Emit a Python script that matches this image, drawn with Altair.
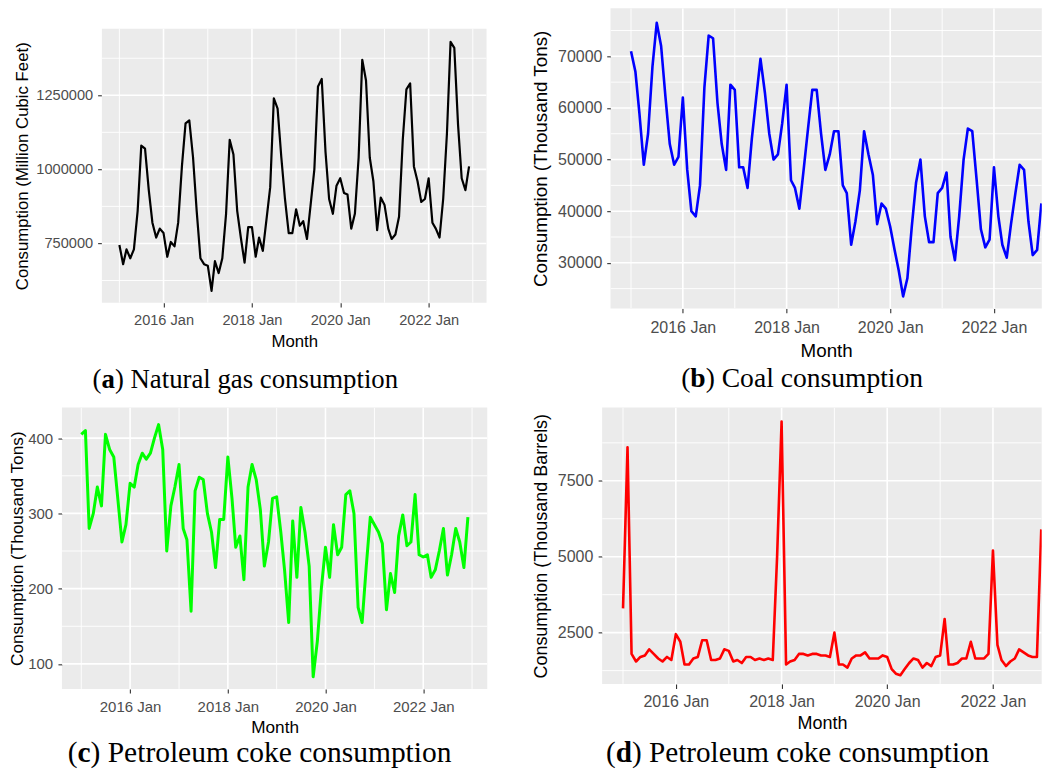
import altair as alt
import pandas as pd

# ---------------- data (monthly, Jan 2015 - Dec 2022) ----------------
months = [f"{y}-{m:02d}-01" for y in range(2015, 2023) for m in range(1, 13)]

gas = [
    745000, 680000, 730000, 700000, 730000, 860000, 1080000, 1070000, 930000, 820000, 770000, 800000,
    785000, 705000, 755000, 740000, 820000, 1010000, 1155000, 1165000, 1040000, 860000, 700000, 680000,
    675000, 590000, 690000, 650000, 700000, 850000, 1100000, 1050000, 860000, 770000, 685000, 805000,
    805000, 705000, 770000, 725000, 830000, 940000, 1240000, 1205000, 1040000, 900000, 785000, 785000,
    865000, 810000, 825000, 765000, 880000, 1000000, 1280000, 1305000, 1060000, 900000, 850000, 945000,
    970000, 920000, 915000, 800000, 850000, 1040000, 1370000, 1300000, 1040000, 960000, 795000, 905000,
    880000, 800000, 765000, 780000, 840000, 1100000, 1270000, 1290000, 1010000, 960000, 890000, 900000,
    970000, 820000, 800000, 770000, 900000, 1120000, 1430000, 1410000, 1150000, 970000, 930000, 1010000,
]

coal = [
    71000, 67000, 59000, 49000, 55000, 68000, 76500, 72000, 62000, 53000, 49000, 50500,
    62000, 48000, 40000, 39000, 45000, 64000, 74000, 73500, 61000, 53000, 48000, 64500,
    63500, 48500, 48500, 44500, 54000, 62000, 69500, 63000, 55000, 50000, 51000, 57000,
    64500, 46000, 44500, 40500, 48000, 56000, 63500, 63500, 55000, 48000, 51000, 55500,
    55500, 45000, 43500, 33500, 38000, 44000, 55500, 51000, 47000, 37500, 41500, 40500,
    37000, 32500, 28500, 23500, 27000, 37000, 45500, 50000, 39000, 34000, 34000, 43500,
    44500, 47500, 35000, 30500, 39000, 50000, 56000, 55500, 46000, 36500, 33000, 34500,
    48500, 39000, 33500, 31000, 37500, 43500, 49000, 48000, 38000, 31500, 32500, 41500,
]

coke_tons = [
    405, 410, 280, 300, 335, 310, 405, 385, 375, 320, 262, 285,
    340, 335, 365, 380, 372, 380, 400, 418, 385, 250, 310, 335,
    365, 280, 265, 170, 330, 348, 345, 300, 275, 228, 292, 292,
    375, 320, 255, 270, 212, 335, 365, 345, 305, 230, 262, 320,
    322, 275, 225, 155, 290, 215, 308, 275, 230, 83, 130, 200,
    255, 215, 285, 245, 255, 325, 330, 300, 175, 155, 230, 295,
    285, 275, 260, 172, 220, 195, 270, 298, 257, 262, 325, 245,
    242, 245, 215, 225, 250, 280, 218, 245, 280, 262, 228, 295,
]

coke_barrels = [
    3300, 8600, 1800, 1550, 1700, 1750, 1950, 1800, 1650, 1550, 1700, 1600,
    2450, 2200, 1450, 1450, 1650, 1700, 2250, 2250, 1600, 1600, 1650, 1950,
    1900, 1550, 1600, 1500, 1700, 1700, 1600, 1650, 1600, 1650, 1600, 5000,
    9450, 1450, 1550, 1600, 1800, 1800, 1750, 1800, 1800, 1750, 1750, 1700,
    2500, 1450, 1450, 1350, 1650, 1750, 1750, 1850, 1650, 1650, 1650, 1750,
    1700, 1300, 1150, 1100, 1300, 1500, 1650, 1600, 1350, 1500, 1400, 1700,
    1750, 2950, 1450, 1450, 1500, 1650, 1650, 2200, 1650, 1650, 1650, 1800,
    5200, 2100, 1600, 1400, 1550, 1650, 1950, 1850, 1750, 1700, 1700, 5900,
]

# tick / grid positions
major_x = ["2016-01-01", "2018-01-01", "2020-01-01", "2022-01-01"]
minor_x_full = ["2015-01-01", "2017-01-01", "2019-01-01", "2021-01-01", "2023-01-01"]
minor_x_cut = ["2015-01-01", "2017-01-01", "2019-01-01", "2021-01-01"]

gas_major = [750000, 1000000, 1250000]
gas_minor = [625000, 875000, 1125000, 1375000]
coal_major = [30000, 40000, 50000, 60000, 70000]
coal_minor = [25000, 35000, 45000, 55000, 65000, 75000]
tons_major = [100, 200, 300, 400]
tons_minor = [150, 250, 350]
barrel_major = [2500, 5000, 7500]
barrel_minor = [1250, 3750, 6250, 8750]

SANS = "Liberation Sans"
SERIF = "Liberation Serif"
BG = "#EBEBEB"

X_START = pd.Timestamp("2014-08-09 12:00")   # ggplot 5% expansion of the month range
X_END_FULL = pd.Timestamp("2023-04-24 12:00")
X_END_CUT = pd.Timestamp("2022-12-04 00:00")  # right-hand panels are cut by the figure edge


def to_dt(ts):
    ts = pd.Timestamp(ts)
    return alt.DateTime(year=ts.year, month=ts.month, date=ts.day,
                        hours=ts.hour, minutes=ts.minute, seconds=ts.second, utc=True)


# plot = grey panel (absolute px), view = Vega-Lite view (absolute px)
panels = [
    dict(values=gas, color="#000000", sw=2.2, ytitle="Consumption (Million Cubic Feet)",
         ydom=[549700, 1474900], ymaj=gas_major, ymin=gas_minor,
         xend=X_END_FULL, xmin=minor_x_full,
         plot=(101, 28.3, 385, 274.4), view=(61, 8, 425, 294.7),
         lab=14.6, tit=16.8, ytick=4.3, ylp=5.0, yext=66.5, yoff=70.4,
         xtick=4.3, xlp=5.0, xext=24, xoff=31.0,
         letter="a", rest=") Natural gas consumption", capL=91.7, capB=388.3, capF=26.8, bw=0.5),
    dict(values=coal, color="#0000FF", sw=2.6, ytitle="Consumption (Thousand Tons)",
         ydom=[21176, 79289], ymaj=coal_major, ymin=coal_minor,
         xend=X_END_CUT, xmin=minor_x_cut,
         plot=(609.3, 8, 431.7, 300.3), view=(609.3, 8, 431.7, 300.3),
         lab=16, tit=18.8, ytick=3.8, ylp=4.8, yext=53.5, yoff=60.2,
         xtick=4.4, xlp=7.0, xext=27.5, xoff=32.7,
         letter="b", rest=") Coal consumption", capL=680, capB=386.7, capF=27.6, bw=0.556),
    dict(values=coke_tons, color="#00FF00", sw=3.0, ytitle="Consumption (Thousand Tons)",
         ydom=[66.8, 440.6], ymaj=tons_major, ymin=tons_minor,
         xend=X_END_FULL, xmin=minor_x_full,
         plot=(61, 406.7, 425.7, 281.6), view=(61, 406.7, 425.7, 281.6),
         lab=15, tit=17.2, ytick=4, ylp=5.3, yext=34.5, yoff=35.0,
         xtick=4, xlp=6.4, xext=25.5, xoff=29.4,
         letter="c", rest=") Petroleum coke consumption", capL=66.7, capB=761, capF=29.5, bw=0.444),
    dict(values=coke_barrels, color="#FF0000", sw=2.6, ytitle="Consumption (Thousand Barrels)",
         ydom=[812, 9911], ymaj=barrel_major, ymin=barrel_minor,
         xend=X_END_CUT, xmin=minor_x_cut,
         plot=(601, 406.7, 440, 276.6), view=(601, 406.7, 440, 276.6),
         lab=16, tit=18, ytick=4, ylp=5.3, yext=45, yoff=51.6,
         xtick=4.5, xlp=5.2, xext=26, xoff=30.4,
         letter="d", rest=") Petroleum coke consumption", capL=605, capB=761, capF=29.2, bw=0.556),
]


def make_panel(p):
    pl, pt, pw, ph = p["plot"]
    vl, vt, vw, vh = p["view"]
    ix, iy = pl - vl, pt - vt              # inset of grey panel inside the view
    rx, by = ix + pw, iy + ph              # right / bottom of grey panel inside view

    # extend scale domains so the grey panel keeps its own mapping
    per_px_x = (p["xend"] - X_START) / pw
    xs = X_START - per_px_x * ix
    xe = p["xend"] + per_px_x * (vw - rx)
    lo, hi = p["ydom"]
    per_px_y = (hi - lo) / ph
    ylo = lo - per_px_y * (vh - by)
    yhi = hi + per_px_y * iy

    xscale = alt.Scale(type="utc", domain=[to_dt(xs), to_dt(xe)])
    yscale = alt.Scale(domain=[ylo, yhi], zero=False, nice=False)

    xaxis = alt.Axis(
        values=[to_dt(s) for s in major_x], labelExpr="utcFormat(datum.value, '%Y %b')",
        title="Month", grid=False, domain=False, ticks=True,
        tickSize=p["xtick"], tickColor="#333333", tickWidth=1.1,
        labelPadding=p["xlp"], labelFontSize=p["lab"], labelColor="#4D4D4D", labelFont=SANS,
        titleFont=SANS, titleFontSize=p["tit"], titleFontWeight="normal", titleColor="#000000",
        titleX=ix + pw / 2, titleY=p["xoff"], offset=vh - by,
        minExtent=p["xext"], maxExtent=p["xext"], labelFlush=False, labelOverlap=False)
    yaxis = alt.Axis(
        values=p["ymaj"], format="d", title=p["ytitle"], grid=False, domain=False, ticks=True,
        tickSize=p["ytick"], tickColor="#333333", tickWidth=1.1,
        labelPadding=p["ylp"], labelFontSize=p["lab"], labelColor="#4D4D4D", labelFont=SANS,
        titleFont=SANS, titleFontSize=p["tit"], titleFontWeight="normal", titleColor="#000000",
        titleX=-p["yoff"], titleY=iy + ph / 2, offset=-ix,
        minExtent=p["yext"], maxExtent=p["yext"], labelFlush=False, labelOverlap=False)

    layers = []
    if ix > 0 or iy > 0:
        layers.append(
            alt.Chart(pd.DataFrame({"k": [0]})).mark_rect(color=BG).encode(
                x=alt.value(ix), x2=alt.value(rx), y=alt.value(iy), y2=alt.value(by))
        )

    def xrules(dates, width):
        return alt.Chart(pd.DataFrame({"month": dates})).mark_rule(
            color="white", strokeWidth=width, clip=True
        ).encode(x=alt.X("month:T", scale=xscale, axis=xaxis),
                 y=alt.value(iy), y2=alt.value(by))

    def yrules(vals, width):
        return alt.Chart(pd.DataFrame({"value": vals})).mark_rule(
            color="white", strokeWidth=width, clip=True
        ).encode(y=alt.Y("value:Q", scale=yscale, axis=yaxis),
                 x=alt.value(ix), x2=alt.value(rx))

    df = pd.DataFrame({"month": months, "value": p["values"]})
    line = alt.Chart(df).mark_line(
        color=p["color"], strokeWidth=p["sw"], clip=True, strokeJoin="round"
    ).encode(
        x=alt.X("month:T", scale=xscale, axis=xaxis),
        y=alt.Y("value:Q", scale=yscale, axis=yaxis),
    )

    layers += [xrules(p["xmin"], 0.9), yrules(p["ymin"], 0.9),
               xrules(major_x, 1.6), yrules(p["ymaj"], 1.6), line]

    # caption: "(" + bold letter + rest
    cx = p["capL"] - vl
    cy = p["capB"] - vt
    F = p["capF"]
    pieces = [("(", cx, "normal"),
              (p["letter"], cx + 0.333 * F, "bold"),
              (p["rest"], cx + (0.333 + p["bw"]) * F, "normal")]
    for txt, px, wt in pieces:
        layers.append(
            alt.Chart(pd.DataFrame({"t": [txt]})).mark_text(
                align="left", baseline="alphabetic", font=SERIF, fontSize=F,
                fontWeight=wt, color="#000000"
            ).encode(x=alt.value(px), y=alt.value(cy), text="t:N")
        )

    fill = BG if (ix == 0 and iy == 0) else "white"
    return alt.layer(*layers).properties(
        width=vw, height=vh, view=alt.ViewBackground(fill=fill, strokeWidth=0))


A, B, C, D = (make_panel(p) for p in panels)

chart = alt.vconcat(
    alt.hconcat(A, B, spacing=44.1),
    alt.hconcat(C, D, spacing=44.7),
    spacing=12.6,
).properties(padding=0, background="white").configure_view(strokeWidth=0)

chart.save("out.html", embed_options={"renderer": "svg", "actions": False})
